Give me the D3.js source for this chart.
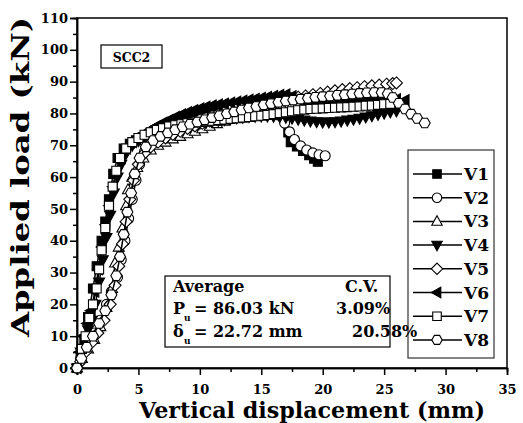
<!DOCTYPE html>
<html><head><meta charset="utf-8">
<script src="https://cdn.jsdelivr.net/npm/d3@7"></script>
<style>
html,body{margin:0;padding:0;background:#fff;}
svg text{font-family:"DejaVu Serif",serif;font-weight:bold;fill:#000;}
</style></head><body>
<svg id="chart" width="523" height="423"></svg>
<script>
// Load–displacement curves of the eight SCC2 specimens: [displacement (mm), load (kN)]
const v1 = [[0,0],[0.3,4],[0.6,9],[0.9,16],[1.3,25],[1.6,32],[2.0,40],[2.3,46],[2.6,53],[2.95,61],[3.3,66],[3.8,69],[4.3,70.5],[4.8,71.6],[5.3,72.4],[5.8,73.2],[6.3,74],[6.8,74.8],[7.3,75.5],[7.8,76.3],[8.3,77],[8.8,77.8],[9.3,78.6],[9.8,79.4],[10.3,80.2],[10.8,80.9],[11.3,81.4],[11.8,81.8],[12.3,82.2],[12.8,82.5],[13.3,82.8],[13.8,83.1],[14.3,83.4],[14.8,83.7],[15.3,84],[15.8,84.2],[16.3,84.3],[16.8,84.1],[17.1,80],[17.2,74],[17.4,71],[17.9,69.6],[18.4,68.2],[18.9,66.9],[19.3,65.8],[19.6,64.8]];
const v2 = [[0,0],[0.3,3],[0.65,6],[1.0,8.5],[1.4,11],[1.9,15],[2.4,20],[2.8,24],[3.3,28.5],[3.6,34],[3.9,40],[4.2,47],[4.5,53],[4.8,59],[5.1,64],[5.5,68],[6.0,70.5],[6.5,72],[7.0,73.3],[7.5,74.3],[8.0,75.2],[8.5,76],[9.0,76.7],[9.5,77.3],[10.0,78],[10.5,78.6],[11.0,79.2],[11.5,79.8],[12.0,80.4],[12.5,81],[13.0,81.6],[13.5,82.2],[14.0,82.8],[14.5,83.2],[15.0,83.4],[15.5,83.2],[16.0,82],[16.4,79.5],[16.9,77],[17.3,74.2],[17.7,71.8],[18.2,69.8],[18.7,68.5],[19.2,67.6],[19.7,67],[20.2,66.7]];
const v3 = [[0,0],[0.4,3],[0.9,6],[1.4,9],[1.9,13],[2.4,19],[2.85,25],[3.1,33],[3.4,38],[3.7,44],[4.0,51],[4.15,56],[4.5,60],[4.9,63],[5.4,66],[6.0,68.5],[6.6,70],[7.2,71],[7.8,72],[8.4,72.8],[9.0,73.6],[9.6,74.4],[10.2,75.2],[10.8,76],[11.4,76.8],[12.0,77.6],[12.6,78.5],[13.2,79.4],[13.8,80.4],[14.4,81.5],[15.0,82.6],[15.6,83.6],[16.2,84.4],[16.8,85]];
const v4 = [[0,0],[0.3,5],[0.6,9],[0.9,12],[1.2,15],[1.5,20],[1.8,27],[2.1,34],[2.4,41],[2.7,48],[3.0,55],[3.3,60],[3.6,64],[4.0,67.5],[4.5,70],[5.0,71.5],[5.5,72.6],[6.0,73.4],[6.5,74.1],[7.0,74.7],[7.5,75.2],[8.0,75.6],[8.5,76],[9.0,76.3],[9.5,76.6],[10.0,76.9],[10.5,77.2],[11.0,77.5],[11.5,77.8],[12.0,78.1],[12.5,78.4],[13.0,78.6],[13.5,78.8],[14.0,79],[14.5,79.1],[15.0,79.2],[15.5,79.2],[16.0,79.1],[16.5,79],[17.0,78.8],[17.5,78.5],[18.0,78.2],[18.5,77.9],[19.0,77.6],[19.5,77.4],[20.0,77.3],[20.5,77.3],[21.0,77.4],[21.5,77.6],[22.0,77.9],[22.5,78.2],[23.0,78.5],[23.5,78.9],[24.0,79.3],[24.5,79.7],[25.0,80.1],[25.5,80.5],[26.0,80.8]];
const v5 = [[0,0],[0.3,2],[0.7,5],[1.2,8],[1.7,11],[2.2,15],[2.7,20],[3.1,26],[3.4,32],[3.7,39],[4.0,46],[4.3,53],[4.6,59],[5.0,64],[5.5,67.5],[6.0,69.5],[6.6,71],[7.2,72.3],[7.8,73.4],[8.4,74.4],[9.0,75.3],[9.6,76.1],[10.2,76.9],[10.8,77.6],[11.4,78.3],[12.0,79],[12.6,79.7],[13.2,80.4],[13.8,81.1],[14.4,81.8],[15.0,82.5],[15.6,83.1],[16.2,83.7],[16.8,84.2],[17.4,84.7],[18.0,85.1],[18.6,85.5],[19.2,85.9],[19.8,86.3],[20.4,86.7],[21.0,87.1],[21.6,87.5],[22.2,87.8],[22.8,88.1],[23.4,88.4],[24.0,88.7],[24.6,88.9],[25.2,89.2],[25.7,89.4],[26.0,89.6]];
const v6 = [[0,0],[0.25,5],[0.55,10],[0.85,14],[1.15,18],[1.45,24],[1.75,31],[2.05,38],[2.35,45],[2.65,51],[2.95,57],[3.25,62],[3.6,66],[4.0,69],[4.5,71],[5.0,72.5],[5.5,73.8],[6.0,75],[6.5,76.1],[7.0,77.1],[7.5,78],[8.0,78.9],[8.5,79.7],[9.0,80.4],[9.5,81],[10.0,81.6],[10.5,82.1],[11.0,82.5],[11.5,82.8],[12.0,83.1],[12.5,83.4],[13.0,83.7],[13.5,84],[14.0,84.3],[14.5,84.6],[15.0,84.9],[15.5,85.2],[16.0,85.5],[16.5,85.8],[17.0,86],[17.5,85.4],[18.0,84.4],[18.5,83.6],[19.0,83.1],[19.5,82.8],[20.0,82.7],[20.5,82.8],[21.0,83],[21.5,83.2],[22.0,83.4],[22.5,83.6],[23.0,83.8],[23.5,84],[24.0,84.2],[24.5,84.4],[25.0,84.5],[25.5,84.6],[26.0,84.5],[26.7,84.2]];
const v7 = [[0,0],[0.4,6],[0.7,10],[1.0,15.7],[1.3,20],[1.6,25],[1.8,31],[2.0,37],[2.3,44],[2.6,51],[2.9,57],[3.2,62],[3.5,66],[4.0,69],[4.5,71],[5.0,72.3],[5.5,73.3],[6.0,74.1],[6.5,74.8],[7.0,75.4],[7.5,75.9],[8.0,76.3],[8.5,76.6],[9.0,76.9],[9.5,77.1],[10.0,77.3],[10.5,77.5],[11.0,77.7],[11.5,77.9],[12.0,78.1],[12.5,78.3],[13.0,78.5],[13.5,78.7],[14.0,78.9],[14.5,79.1],[15.0,79.3],[15.5,79.5],[16.0,79.8],[16.5,80.1],[17.0,80.4],[17.5,80.7],[18.0,81],[18.5,81.2],[19.0,81.4],[19.5,81.5],[20.0,81.6],[20.5,81.7],[21.0,81.8],[21.5,81.9],[22.0,82],[22.5,82.1],[23.0,82.2],[23.5,82.4],[24.0,82.5],[24.5,82.7],[25.0,82.9],[25.5,83]];
const v8 = [[0,0],[0.35,3],[0.8,6.5],[1.3,10],[1.8,14],[2.3,18],[2.8,23],[3.2,29],[3.5,35],[3.8,42],[4.1,49],[4.4,55],[4.7,61],[5.1,66],[5.6,69.5],[6.2,71.5],[6.8,72.8],[7.4,73.9],[8.0,74.9],[8.6,75.8],[9.2,76.6],[9.8,77.3],[10.4,78],[11.0,78.7],[11.6,79.3],[12.2,79.9],[12.8,80.5],[13.4,81.1],[14.0,81.7],[14.6,82.2],[15.2,82.7],[15.8,83.1],[16.4,83.5],[17.0,83.9],[17.6,84.2],[18.2,84.5],[18.8,84.8],[19.4,85.1],[20.0,85.3],[20.6,85.5],[21.2,85.7],[21.8,85.9],[22.4,86.1],[23.0,86.3],[23.6,86.5],[24.2,86.6],[24.8,86.6],[25.3,86.2],[25.7,85],[26.2,83.2],[26.7,81.4],[27.2,79.8],[27.7,78.4],[28.3,77]];

const seriesNames = ["V1","V2","V3","V4","V5","V6","V7","V8"];
const seriesData = [v1, v2, v3, v4, v5, v6, v7, v8];
const seriesMarkers = ["square","circle","triUp","triDown","diamond","triLeft","square","hexagon"];
const seriesFilled = [true,false,false,true,false,true,false,false];

const xTicks = [0,5,10,15,20,25,30,35];
const yTicks = [0,10,20,30,40,50,60,70,80,90,100,110];
const xTitle = "Vertical displacement (mm)";
const yTitle = "Applied load (kN)";
const panelLabel = "SCC2";
const statsHeader = ["Average","C.V."];
const statsRows = [
  {sym:"P", sub:"u", value:"= 86.03 kN", cv:"3.09%"},
  {sym:"δ", sub:"u", value:"= 22.72 mm", cv:"20.58%"}
];

const svg = d3.select("#chart");
const x = d3.scaleLinear().domain([0,35]).range([77,507]);
const y = d3.scaleLinear().domain([0,110]).range([368,18]);

// marker shapes, centred on the origin
function markerPath(type, k) {
  k = k || 1;
  const p = pts => "M" + pts.map(q => (q[0]*k).toFixed(2)+","+(q[1]*k).toFixed(2)).join("L") + "Z";
  switch (type) {
    case "square": return p([[-4.5,-4.5],[4.5,-4.5],[4.5,4.5],[-4.5,4.5]]);
    case "triUp": return p([[0,-6],[5.5,4],[-5.5,4]]);
    case "triDown": return p([[0,6],[5.5,-4],[-5.5,-4]]);
    case "triLeft": return p([[-6,0],[4,-5.5],[4,5.5]]);
    case "diamond": return p([[0,-6],[6,0],[0,6],[-6,0]]);
    case "hexagon": {
      const r = 5.5, a = [];
      for (let i = 0; i < 6; i++) { const t = Math.PI/3*i; a.push([r*Math.cos(t), r*Math.sin(t)]); }
      return p(a);
    }
    case "circle": {
      const r = 5*k;
      return `M${-r},0A${r},${r} 0 1,0 ${r},0A${r},${r} 0 1,0 ${-r},0Z`;
    }
  }
}

// plot frame
svg.append("rect").attr("x",x(0)).attr("y",y(110)).attr("width",x(35)-x(0)).attr("height",y(0)-y(110))
  .attr("fill","none").attr("stroke","#000").attr("stroke-width",1.5);

// axes
const xAxis = d3.axisBottom(x).tickValues(xTicks).tickSize(7).tickPadding(10).tickFormat(d3.format("d"));
const gx = svg.append("g").attr("transform",`translate(0,${y(0)})`).call(xAxis);
const gxm = svg.append("g").attr("transform",`translate(0,${y(0)})`)
  .call(d3.axisBottom(x).tickValues(d3.range(0,35,5).map(v => v+2.5)).tickSize(4).tickFormat(""));
const yAxis = d3.axisLeft(y).tickValues(yTicks).tickSize(7).tickPadding(2).tickFormat(d3.format("d"));
const gy = svg.append("g").attr("transform",`translate(${x(0)},0)`).call(yAxis);
const gym = svg.append("g").attr("transform",`translate(${x(0)},0)`)
  .call(d3.axisLeft(y).tickValues(d3.range(0,110,10).map(v => v+5)).tickSize(4).tickFormat(""));
[gx,gxm,gy,gym].forEach(g => {
  g.select(".domain").attr("stroke","#000").attr("stroke-width",1.5);
  g.selectAll(".tick line").attr("stroke","#000").attr("stroke-width",1.5);
  g.selectAll(".tick text").attr("font-size",13).attr("font-family","DejaVu Serif").attr("font-weight","bold").attr("fill","#000");
});

// axis titles
svg.append("text").attr("x",(x(0)+x(35))/2 + 20).attr("y",418).attr("text-anchor","middle")
  .attr("font-size",22).attr("textLength",346).attr("lengthAdjust","spacingAndGlyphs").text(xTitle);
svg.append("text").attr("transform","translate(29,177) rotate(-90)").attr("text-anchor","middle")
  .attr("font-size",24).attr("textLength",320).attr("lengthAdjust","spacingAndGlyphs").text(yTitle);

// curves
const line = d3.line().x(d => x(d[0])).y(d => y(d[1]));
seriesData.forEach((data, i) => {
  const g = svg.append("g");
  g.append("path").attr("d", line(data)).attr("fill","none").attr("stroke","#000").attr("stroke-width",1.5);
  g.selectAll("path.m").data(data).join("path").attr("class","m")
    .attr("transform", d => `translate(${x(d[0])},${y(d[1])})`)
    .attr("d", markerPath(seriesMarkers[i]))
    .attr("fill", seriesFilled[i] ? "#000" : "#fff")
    .attr("stroke","#000").attr("stroke-width",1.1);
});

// panel label
svg.append("rect").attr("x",101).attr("y",45).attr("width",61).attr("height",23)
  .attr("fill","#fff").attr("stroke","#000").attr("stroke-width",1.2);
svg.append("text").attr("x",131.5).attr("y",61.5).attr("text-anchor","middle").attr("font-size",12.5).text(panelLabel);

// legend
const lg = svg.append("g");
lg.append("rect").attr("x",408).attr("y",150).attr("width",86).attr("height",208)
  .attr("fill","#fff").attr("stroke","#333").attr("stroke-width",1.2);
seriesNames.forEach((name, i) => {
  const ly = 174 + i*23.7;
  lg.append("line").attr("x1",413).attr("x2",462).attr("y1",ly).attr("y2",ly).attr("stroke","#000").attr("stroke-width",1.5);
  lg.append("path").attr("transform",`translate(437,${ly})`).attr("d",markerPath(seriesMarkers[i], 0.95))
    .attr("fill", seriesFilled[i] ? "#000" : "#fff").attr("stroke","#000").attr("stroke-width",1.1);
  lg.append("text").attr("x",464).attr("y",ly+6).attr("font-size",17).text(name);
});

// statistics box (its text may run over the legend edge)
const sg = svg.append("g");
sg.append("rect").attr("x",165).attr("y",276).attr("width",225).attr("height",71)
  .attr("fill","#fff").attr("stroke","#000").attr("stroke-width",1.2);
sg.append("text").attr("x",173).attr("y",292).attr("font-size",16).text(statsHeader[0]);
sg.append("text").attr("x",345).attr("y",292).attr("font-size",16).text(statsHeader[1]);
statsRows.forEach((r, i) => {
  const by = 314 + i*23;
  sg.append("text").attr("x",173).attr("y",by).attr("font-size",16).text(r.sym);
  sg.append("text").attr("x",184).attr("y",by+7).attr("font-size",9).text(r.sub);
  sg.append("text").attr("x",194).attr("y",by).attr("font-size",16).text(r.value);
  sg.append("text").attr("x",[336,352][i]).attr("y",by).attr("font-size",16).text(r.cv);
});
</script></body></html>
